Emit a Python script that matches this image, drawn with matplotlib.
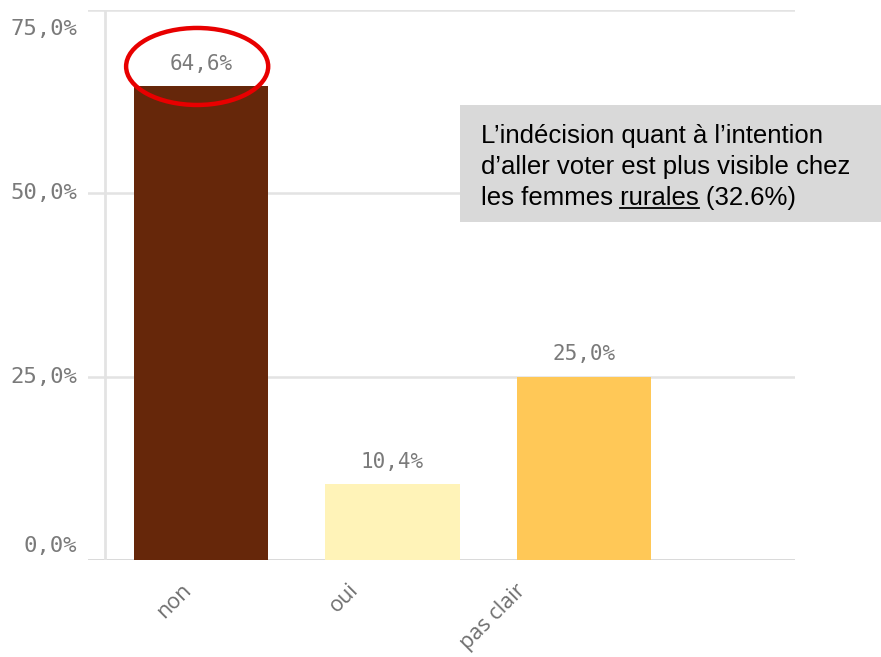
import matplotlib
matplotlib.use("Agg")
import matplotlib.pyplot as plt
from matplotlib.patches import Ellipse, Rectangle
from matplotlib.lines import Line2D
from matplotlib.transforms import offset_copy

# Data
categories = ["non", "oui", "pas clair"]
values = [64.6, 10.4, 25.0]
bar_colors = ["#66270A", "#FFF3B8", "#FFC857"]
y_ticks = [0, 25, 50, 75]
y_tick_labels = ["0,0%", "25,0%", "50,0%", "75,0%"]
note_lines = ["L\u2019indécision quant à l\u2019intention",
              "d\u2019aller voter est plus visible chez",
              "les femmes rurales (32.6%)"]
note_underlined = "rurales"

W, H, DPI = 881, 657, 100
fig = plt.figure(figsize=(W / DPI, H / DPI), dpi=DPI)
fig.patch.set_facecolor("white")

# axes: x from 88px to 795px, y from 560px (0%) to 10px (75%)
ax = fig.add_axes([88 / W, (H - 560) / H, (795 - 88) / W, 550 / H])
ax.set_xlim(-0.59, 3.102)
ax.set_ylim(0, 75)
for s in ax.spines.values():
    s.set_visible(False)
ax.set_xticks([])
ax.set_yticks([])

grid_c = "#E3E3E3"
for t in y_ticks:
    ax.axhline(t, color="#CFCFCF" if t == 0 else grid_c, lw=1.8, zorder=0)
ax.axvline(-0.5, color=grid_c, lw=2, zorder=0)

xs = list(range(len(categories)))
ax.bar(xs, values, width=0.7, color=bar_colors, zorder=2)

mono = "DejaVu Sans Mono"
label_c = "#7A7A7A"

# value labels above bars
for x, v in zip(xs, values):
    ax.annotate(f"{v:.1f}%".replace(".", ","), (x, v), xytext=(0, 16),
                textcoords="offset points", ha="center", va="center",
                fontsize=15, family=mono, color=label_c, zorder=3)

# y tick labels (outer ones pulled inside the plot range)
ytrans = ax.get_yaxis_transform()
for t, lab in zip(y_ticks, y_tick_labels):
    dy = 0
    if t == y_ticks[0]:
        dy = 14
    elif t == y_ticks[-1]:
        dy = -19
    tr = offset_copy(ytrans, fig=fig, x=0, y=dy * 72 / DPI, units="points")
    ax.text(-0.015, t, lab, transform=tr, ha="right", va="center",
            fontsize=16, family=mono, color=label_c, clip_on=False)

# rotated category labels
step = 167 / 191.5
for i, cat in enumerate(categories):
    ax.text(-0.026 + i * step, -2.7, cat, rotation=45, ha="right", va="top",
            fontsize=15.5, family="Open Sans", color="#6E6E6E", clip_on=False)

# highlight around the first value label
ax.add_patch(Ellipse((xs[0] - 0.02, values[0] + 2.7), 0.742, 10.5,
                     fill=False, edgecolor="#E80000", lw=3.2,
                     clip_on=False, zorder=4))

# note box
fig.patches.append(Rectangle((460 / W, 1 - 222 / H), (W - 460) / W, 117 / H,
                             transform=fig.transFigure, facecolor="#D9D9D9",
                             edgecolor="none", zorder=5))
baselines = [143, 174, 205]
note_kw = dict(fontsize=18.5, family="Liberation Sans", color="black",
               ha="left", va="baseline", zorder=6)
texts = []
for line, yb in zip(note_lines, baselines):
    texts.append(fig.text(481 / W, 1 - yb / H, line, **note_kw))

fig.canvas.draw()
renderer = fig.canvas.get_renderer()
last = note_lines[-1]
prefix = last[:last.index(note_underlined)]
tmp = fig.text(0, 0, prefix.replace(" ", "\u00a0"), **note_kw)
pre_w = tmp.get_window_extent(renderer).width
tmp.remove()
tmp = fig.text(0, 0, note_underlined, **note_kw)
word_w = tmp.get_window_extent(renderer).width
tmp.remove()
x0 = 481 + pre_w
y_ul = 1 - (baselines[-1] + 3) / H
fig.lines.append(Line2D([x0 / W, (x0 + word_w) / W], [y_ul, y_ul],
                        transform=fig.transFigure, color="black", lw=1.3,
                        zorder=7))

fig.savefig("out.png", dpi=DPI)
